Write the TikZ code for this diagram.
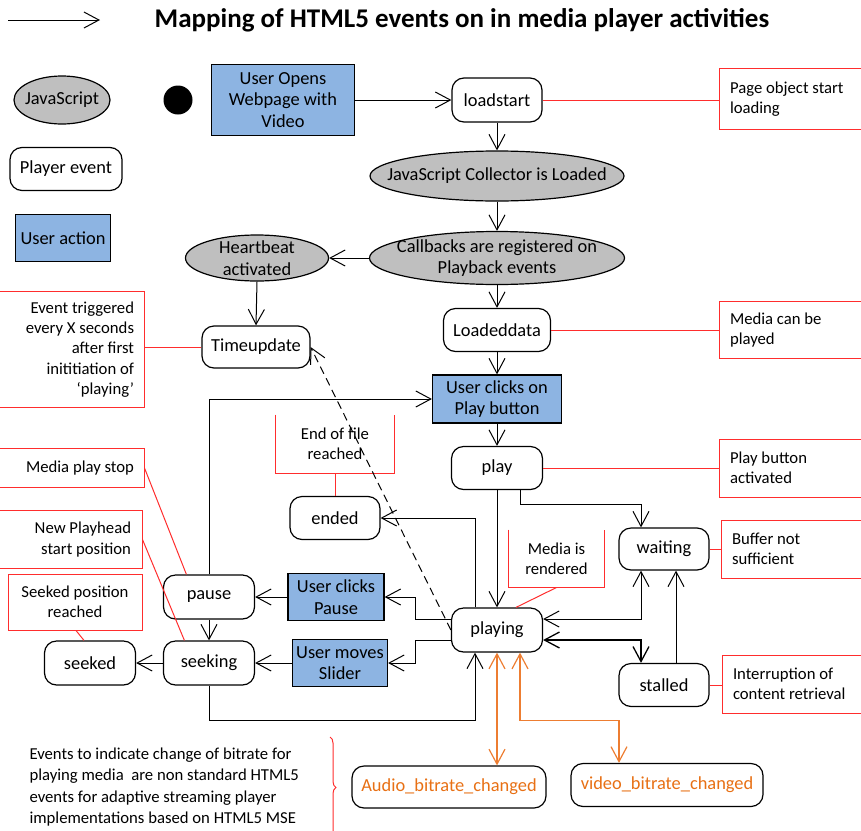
\documentclass[tikz,border=0pt]{standalone}
\usepackage{fontspec}
\setmainfont{Carlito}
\usetikzlibrary{shapes.geometric,arrows.meta,calc,decorations.pathreplacing}
\definecolor{jsgray}{RGB}{191,191,191}
\definecolor{actblue}{RGB}{141,180,226}
\definecolor{notered}{RGB}{255,45,45}
\definecolor{bitorange}{RGB}{237,125,49}
\definecolor{bittext}{RGB}{232,112,20}
\begin{document}
\begin{tikzpicture}[x=1pt,y=-1pt,
  font=\fontsize{18.4}{21.5}\selectfont,
  >={Straight Barb[length=15pt,width=16pt]},
  line width=1pt,
  evt/.style={draw, rounded corners=12pt, fill=white, line width=1.2pt, inner sep=0pt, align=center},
  jsell/.style={ellipse, draw, fill=jsgray, line width=1.2pt, inner sep=0pt},
  act/.style={draw, fill=actblue, line width=1.2pt, inner sep=0pt, align=center},
  frame/.style={inner sep=0pt},
  notefont/.style={font=\fontsize{16.7}{20.3}\selectfont},
  ltext/.style={notefont, anchor=west, align=left, inner sep=0pt},
  rtext/.style={notefont, anchor=east, align=right, inner sep=0pt},
  ctext/.style={notefont, align=center, inner sep=0pt},
  noteline/.style={draw=notered, line width=1pt},
  conn/.style={->, line width=1pt},
  bitconn/.style={<->, draw=bitorange, line width=1.2pt}
]
\useasboundingbox (0,0) rectangle (861,830);

% title and legend
\node[font=\fontsize{27}{30}\selectfont\bfseries] (title) at (462,20) {Mapping of HTML5 events on in media player activities};
\coordinate (la) at (8,20);
\coordinate (lb) at (100,20);
\draw[conn] (la) -- (lb);
\node[jsell, minimum width=96pt, minimum height=48pt, label={center:JavaScript}] (jsleg) at (62,100) {};
\node[evt, minimum width=112pt, minimum height=43pt] (plev) at (66,169) {Player event};
\node[act, minimum width=95pt, minimum height=47pt] (uact) at (63,238) {User action};
\node[circle, fill=black, minimum size=29pt, inner sep=0pt] (dot) at (178,100) {};

% main nodes
\node[act, minimum width=143pt, minimum height=71pt] (open) at (283,100) {User Opens\\Webpage with\\Video};
\node[evt, minimum width=90pt, minimum height=44pt] (loadstart) at (497,100) {loadstart};
\node[jsell, minimum width=254pt, minimum height=50pt, label={center:JavaScript Collector is Loaded}] (coll) at (497,176) {};
\node[jsell, minimum width=255pt, minimum height=53pt, label={[align=center]center:Callbacks are registered on\\Playback events}] (cb) at (497,258) {};
\node[jsell, minimum width=143pt, minimum height=46pt, label={[align=center]center:Heartbeat\\activated}] (hb) at (257,258) {};
\node[evt, minimum width=108pt, minimum height=42pt] (tu) at (256,347) {Timeupdate};
\node[evt, minimum width=107pt, minimum height=43pt] (ld) at (497,330) {Loadeddata};
\node[act, minimum width=129pt, minimum height=48pt] (ucp) at (497,399) {User clicks on\\Play button};
\node[evt, minimum width=91pt, minimum height=43pt] (play) at (497,468) {play};
\node[evt, minimum width=90pt, minimum height=42pt] (waiting) at (664,549) {waiting};
\node[evt, minimum width=91pt, minimum height=44pt] (playing) at (497,630) {playing};
\node[evt, minimum width=90pt, minimum height=43pt] (stalled) at (664,685) {stalled};
\node[evt, minimum width=90pt, minimum height=43pt] (ended) at (335,518) {ended};
\node[act, minimum width=96pt, minimum height=47pt] (ucpause) at (336,597) {User clicks\\Pause};
\node[act, minimum width=95pt, minimum height=47pt] (ums) at (340,663) {User moves\\Slider};
\node[evt, minimum width=91pt, minimum height=44pt] (pause) at (209,597) {pause};
\node[evt, minimum width=91pt, minimum height=44pt] (seeking) at (209,663) {seeking};
\node[evt, minimum width=91pt, minimum height=44pt] (seeked) at (90,663) {seeked};
\node[evt, minimum width=194pt, minimum height=42pt, text=bittext] (audio) at (449,787) {Audio\_bitrate\_changed};
\node[evt, minimum width=192pt, minimum height=43pt, text=bittext] (video) at (667,785) {video\_bitrate\_changed};

% notes
\node[frame, minimum width=150pt, minimum height=60pt] (n1) at (795,99) {};
\draw[noteline] (n1.north east) -- (n1.north west) -- (n1.south west) -- (n1.south east);
\node[ltext] (n1t) at ($(n1.west)+(10,0)$) {Page object start\\loading};
\node[frame, minimum width=150pt, minimum height=56pt] (n2) at (795,330) {};
\draw[noteline] (n2.north east) -- (n2.north west) -- (n2.south west) -- (n2.south east);
\node[ltext] (n2t) at ($(n2.west)+(10,0)$) {Media can be\\played};
\node[frame, minimum width=150pt, minimum height=57pt] (n3) at (795,468) {};
\draw[noteline] (n3.north east) -- (n3.north west) -- (n3.south west) -- (n3.south east);
\node[ltext] (n3t) at ($(n3.west)+(10,0)$) {Play button\\activated};
\node[frame, minimum width=150pt, minimum height=57pt] (n4) at (797,549) {};
\draw[noteline] (n4.north east) -- (n4.north west) -- (n4.south west) -- (n4.south east);
\node[ltext] (n4t) at ($(n4.west)+(10,0)$) {Buffer not\\sufficient};
\node[frame, minimum width=150pt, minimum height=57pt] (n5) at (798,684) {};
\draw[noteline] (n5.north east) -- (n5.north west) -- (n5.south west) -- (n5.south east);
\node[ltext] (n5t) at ($(n5.west)+(10,0)$) {Interruption of\\content retrieval};
\node[frame, minimum width=154pt, minimum height=115pt] (n6) at (67,349.5) {};
\draw[noteline] (n6.north west) -- (n6.north east) -- (n6.south east) -- (n6.south west);
\node[rtext] (n6t) at ($(n6.east)+(-10,0)$) {Event triggered\\every X seconds\\after first\\inititiation of\\‘playing’};
\node[frame, minimum width=154pt, minimum height=38pt] (n7) at (67,468) {};
\draw[noteline] (n7.north west) -- (n7.north east) -- (n7.south east) -- (n7.south west);
\node[rtext] (n7t) at ($(n7.east)+(-10,0)$) {Media play stop};
\node[frame, minimum width=152pt, minimum height=57pt] (n8) at (66,539.5) {};
\draw[noteline] (n8.north west) -- (n8.north east) -- (n8.south east) -- (n8.south west);
\node[rtext] (n8t) at ($(n8.east)+(-11,0)$) {New Playhead\\start position};
\node[frame, minimum width=134pt, minimum height=56pt, draw=notered] (n9) at (75,602) {};
\node[ctext] (n9t) at (n9) {Seeked position\\reached};
\node[frame, minimum width=118pt, minimum height=58pt] (n10) at (335,444) {};
\draw[noteline] (n10.north west) -- (n10.south west) -- (n10.south east) -- (n10.north east);
\node[ctext] (n10t) at (n10) {End of file\\reached};
\node[frame, minimum width=95pt, minimum height=57pt] (n11) at (556.5,558.5) {};
\draw[noteline] (n11.north west) -- (n11.south west) -- (n11.south east) -- (n11.north east);
\node[ctext] (n11t) at (n11) {Media is\\rendered};

% note connectors
\draw[noteline] (loadstart.east) -- (loadstart.east -| n1.west);
\draw[noteline] (ld.east) -- (ld.east -| n2.west);
\draw[noteline] (play.east) -- (play.east -| n3.west);
\draw[noteline] (waiting.east) -- (waiting.east -| n4.west);
\draw[noteline] (stalled.east) -- (stalled.east -| n5.west);
\draw[noteline] (tu.west) -- (tu.west -| n6.east);
\draw[noteline] (n7.east) -- ($(pause.north west)+(23.5,0)$);
\draw[noteline] (n8.east) -- ($(seeking.north west)+(21.5,0)$);
\draw[noteline] ($(n9.south)+(1,0)$) -- ($(seeked.north)+(-6,0)$);
\draw[noteline] (n10.south) -- (ended.north);
\draw[noteline] (n11.south) -- ($(playing.north)+(19,0)$);

% flow connectors
\draw[conn] (open.east) -- (loadstart.west);
\draw[conn] (loadstart.south) -- (coll.north);
\draw[conn] (coll.south) -- (cb.north);
\draw[conn] (cb.west) -- (hb.east);
\draw[conn] (hb.south) -- (tu.north);
\draw[conn] (cb.south) -- (ld.north);
\draw[conn] (ld.south) -- (ucp.north);
\draw[conn] (ucp.south) -- (play.north);
\draw[conn] (play.south) -- (playing.north);
\draw[conn] ($(play.south)+(23,0)$) -- ($(play.south)+(23,14)$) -| ($(waiting.north)+(-23,0)$);
\draw[<->] ($(playing.east)+(0,-11)$) -| ($(waiting.south)+(-23,0)$);
\draw[<->, line width=1.3pt] ($(playing.east)+(0,10)$) -| ($(stalled.north)+(-23,0)$);
\draw[conn] ($(stalled.north)+(12,0)$) -- ($(waiting.south)+(12,0)$);
\draw[conn] ($(playing.north)+(-22,0)$) |- (ended.east);
\draw[conn] ($(playing.west)+(0,-11)$) -- ($(playing.west)+(-35,-11)$) |- (ucpause.east);
\draw[conn] ($(playing.west)+(0,10)$) -- ($(playing.west)+(-35,10)$) |- (ums.east);
\draw[conn] (ucpause.west) -- (pause.east);
\draw[conn] (ums.west) -- (seeking.east);
\draw[conn] (pause.south) -- (seeking.north);
\draw[conn] (seeking.west) -- (seeked.east);
\draw[conn] (pause.north) |- (ucp.west);
\draw[conn] (seeking.south) -- ($(seeking.south)+(0,35)$) -| ($(playing.south)+(-22,0)$);
\draw[conn, dash pattern=on 8pt off 5pt] (playing.west) -- (tu.east);

% bitrate connectors
\draw[bitconn] (playing.south) -- (playing.south |- audio.north);
\draw[bitconn] ($(playing.south)+(23,0)$) -- ($(playing.south)+(23,68)$) -| ($(video.north)+(-48,0)$);

% brace and remark
\begin{scope}
\clip (0,0) rectangle (861,830);
\coordinate (bt) at (330,737);
\coordinate (bb) at (330,838);
\draw[notered, decorate, decoration={brace, amplitude=6pt}] (bt) -- (bb);
\end{scope}
\node[align=left, anchor=west, inner sep=0pt, font=\fontsize{16.7}{21.5}\selectfont] (btxt) at (29,787) {Events to indicate change of bitrate for\\playing media\ \ are non standard HTML5\\events for adaptive streaming player\\implementations based on HTML5 MSE};
\end{tikzpicture}
\end{document}
